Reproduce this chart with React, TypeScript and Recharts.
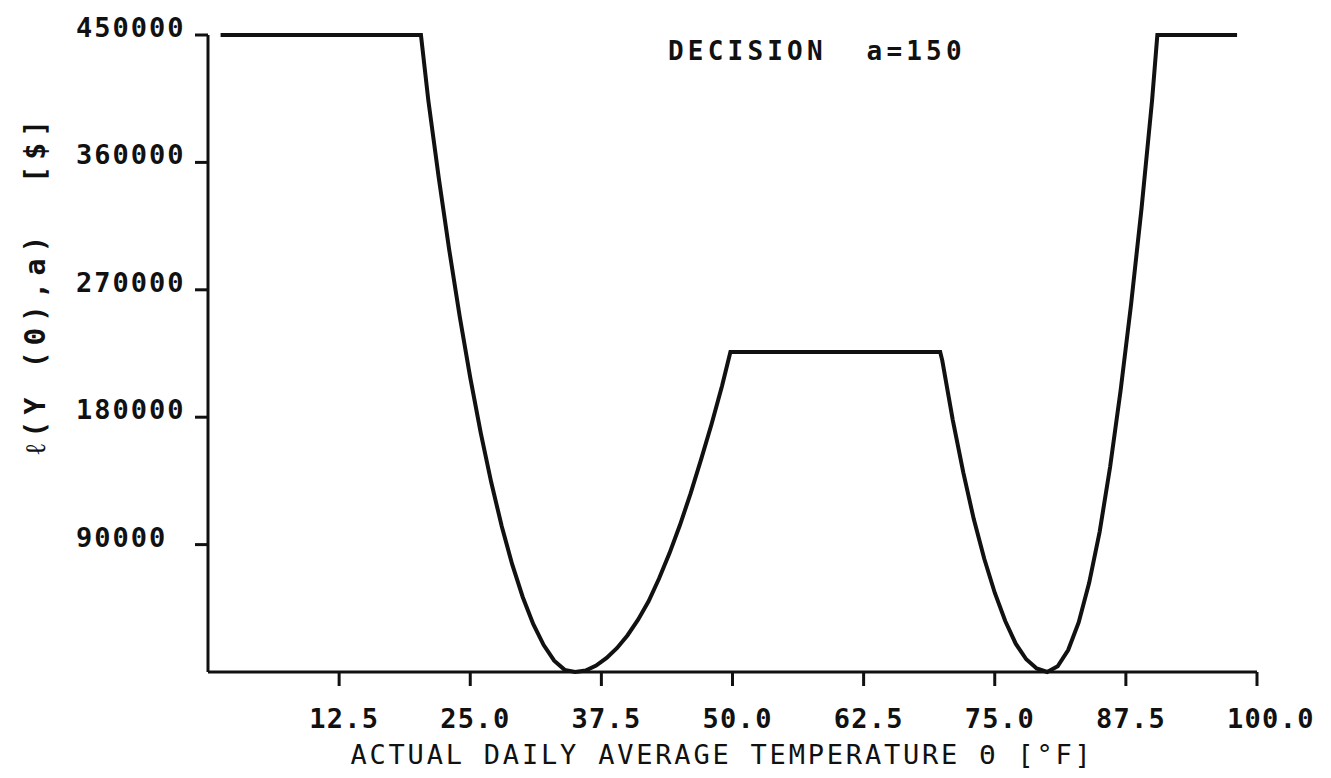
import { LineChart, Line, XAxis, YAxis } from "recharts";

// loss curve for decision a = 150, sampled along the temperature axis
const temps = [
  1.2, 20.3, 21, 22, 23, 24, 25, 26, 27, 28, 29, 30, 31, 32, 33, 34, 35, 36, 37,
  38, 39, 40, 41, 42, 43, 44, 45, 46, 47, 48, 49, 49.8, 69.8, 70, 71, 72, 73, 74,
  75, 76, 77, 78, 79, 80, 81, 82, 83, 84, 85, 86, 87, 88, 89, 90, 90.5, 98.1,
];
const losses = [
  450000, 450000, 404000, 349000, 298000, 251000, 208000, 169000, 134000,
  103000, 76000, 53000, 34000, 19000, 8000, 1500, 0, 1000, 4500, 10000, 17000,
  26000, 37000, 50000, 66000, 84000, 104000, 126000, 150000, 175000, 202000,
  226000, 226000, 220000, 178000, 141000, 108000, 80000, 56000, 36000, 20000,
  9000, 2500, 0, 4000, 15500, 35000, 63000, 99000, 145000, 199000, 260000,
  328000, 404000, 450000, 450000,
];

const xTicks = [12.5, 25, 37.5, 50, 62.5, 75, 87.5, 100];
const yTicks = [90000, 180000, 270000, 360000, 450000];

const data = temps.map((t, i) => ({ temp: t, loss: losses[i] }));

const FONT = "'DejaVu Sans Mono', monospace";
const INK = "#111";

// plotter-style labels: x labels start a little left of the tick,
// y labels sit with their baseline just under the tick
function XTick({ x, y, payload }: any) {
  return (
    <text
      x={x - 30}
      y={y + 40}
      fontFamily={FONT}
      fontWeight="bold"
      fontSize={27}
      letterSpacing={1.3}
      fill={INK}
    >
      {Number(payload.value).toFixed(1)}
    </text>
  );
}

function YTick({ y, payload }: any) {
  return (
    <text
      x={76}
      y={y + 2}
      fontFamily={FONT}
      fontWeight="bold"
      fontSize={27}
      letterSpacing={2}
      fill={INK}
    >
      {payload.value}
    </text>
  );
}

function XTitle() {
  return (
    <text
      x={722}
      y={764}
      textAnchor="middle"
      fontFamily={FONT}
      fontSize={27}
      letterSpacing={2.8}
      fill={INK}
      style={{ whiteSpace: "pre" }}
    >
      ACTUAL DAILY AVERAGE TEMPERATURE Θ [°F]
    </text>
  );
}

function YTitle() {
  return (
    <text
      transform="translate(45,284) rotate(-90)"
      textAnchor="middle"
      fontFamily={FONT}
      fontWeight="bold"
      fontSize={28}
      letterSpacing={6.3}
      fill={INK}
      style={{ whiteSpace: "pre" }}
    >
      ℓ(Y (Θ),a)  [$]
    </text>
  );
}

export default function App() {
  return (
    <div style={{ position: "absolute", left: 0, top: 0, background: "#fff" }}>
      <LineChart
        width={1331}
        height={778}
        data={data}
        margin={{ top: 35, right: 74, bottom: 0, left: 108 }}
      >
        <XAxis
          dataKey="temp"
          type="number"
          domain={[0, 100]}
          ticks={xTicks}
          height={106}
          tickSize={14}
          axisLine={{ stroke: INK, strokeWidth: 3 }}
          tickLine={{ stroke: INK, strokeWidth: 3 }}
          tick={<XTick />}
          label={{ content: <XTitle /> }}
        />
        <YAxis
          type="number"
          domain={[0, 450000]}
          ticks={yTicks}
          width={100}
          tickSize={13}
          axisLine={{ stroke: INK, strokeWidth: 3 }}
          tickLine={{ stroke: INK, strokeWidth: 3 }}
          tick={<YTick />}
          label={{ content: <YTitle /> }}
        />
        <Line
          dataKey="loss"
          type="linear"
          stroke={INK}
          strokeWidth={4}
          dot={false}
          isAnimationActive={false}
        />
      </LineChart>
      <svg
        width={1331}
        height={778}
        style={{ position: "absolute", left: 0, top: 0, pointerEvents: "none" }}
      >
        <text
          x={668}
          y={60}
          fontFamily={FONT}
          fontWeight="bold"
          fontSize={26}
          letterSpacing={4.2}
          fill={INK}
          style={{ whiteSpace: "pre" }}
        >
          DECISION  a=150
        </text>
      </svg>
    </div>
  );
}
